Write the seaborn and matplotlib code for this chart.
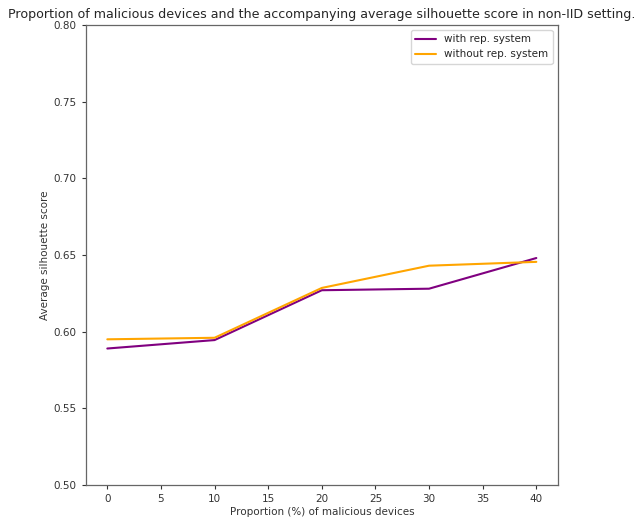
import matplotlib
matplotlib.use("Agg")
import matplotlib.pyplot as plt
import seaborn as sns
import pandas as pd

# Proportion of malicious devices (%) and mean silhouette scores
proportions = [0, 10, 20, 30, 40]
with_rep = [0.589, 0.5945, 0.627, 0.628, 0.648]
without_rep = [0.595, 0.596, 0.6285, 0.643, 0.6455]

df = pd.concat([
    pd.DataFrame({"proportion": proportions, "score": with_rep, "system": "with rep. system"}),
    pd.DataFrame({"proportion": proportions, "score": without_rep, "system": "without rep. system"}),
])

sns.set_style("ticks")
plt.rcParams["font.family"] = ["DejaVu Sans"]

fig = plt.figure(figsize=(6.36, 5.19), dpi=100)
ax = fig.add_axes([0.135, 0.0655, 0.742, 0.8865])

sns.lineplot(data=df, x="proportion", y="score", hue="system",
             palette={"with rep. system": "purple", "without rep. system": "orange"},
             linewidth=1.5, ax=ax)

ax.set_ylim(0.50, 0.80)
ax.set_yticks([0.50, 0.55, 0.60, 0.65, 0.70, 0.75, 0.80])
ax.set_xticks([0, 5, 10, 15, 20, 25, 30, 35, 40])
ax.set_xlim(-2, 42)

ax.set_title("Proportion of malicious devices and the accompanying average silhouette score in non-IID setting.",
             fontsize=9.05, pad=5, x=0.499)
ax.set_xlabel("Proportion (%) of malicious devices", fontsize=7.5, color="#333333", labelpad=2)
ax.set_ylabel("Average silhouette score", fontsize=7.5, color="#333333", labelpad=3)
ax.tick_params(axis="both", labelsize=7.5, colors="#333333", length=3, width=0.8)
for s in ax.spines.values():
    s.set_color("#666666")
    s.set_linewidth(0.9)

leg = ax.legend(loc="upper right", fontsize=7.5, frameon=True, handlelength=2.0)
leg.get_frame().set_edgecolor("#cccccc")

fig.savefig("out.png", dpi=100)
